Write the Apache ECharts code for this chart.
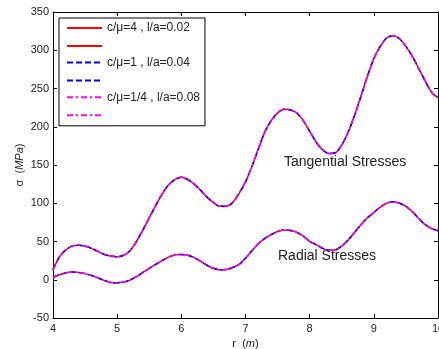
<!DOCTYPE html>
<html>
<head>
<meta charset="utf-8">
<script src="https://cdn.jsdelivr.net/npm/echarts@6/dist/echarts.min.js"></script>
<style>
  html, body { margin: 0; padding: 0; background: #fff; }
  #chart { width: 439px; height: 349px; }
</style>
</head>
<body>
<div id="chart"></div>
<script>
// r (m) sample points
const rValues = [
  4.0, 4.1, 4.2, 4.3, 4.4, 4.5, 4.6, 4.7, 4.8, 4.9,
  5.0, 5.1, 5.2, 5.3, 5.4, 5.5, 5.6, 5.7, 5.8, 5.9,
  6.0, 6.1, 6.2, 6.3, 6.4, 6.5, 6.6, 6.7, 6.8, 6.9,
  7.0, 7.1, 7.2, 7.3, 7.4, 7.5, 7.6, 7.7, 7.8, 7.9,
  8.0, 8.1, 8.2, 8.3, 8.4, 8.5, 8.6, 8.7, 8.8, 8.9,
  9.0, 9.1, 9.2, 9.3, 9.4, 9.5, 9.6, 9.7, 9.8, 9.9, 10.0
];
// sigma (MPa) -- the three parameter sets overlap
const tangential = [
  13, 30, 39, 44, 45, 44, 41, 37, 33, 31,
  30, 32, 38, 50, 65, 81, 97, 112, 124, 131,
  134, 131, 125, 117, 108, 101, 96, 96, 101, 113,
  128, 148, 171, 193, 208, 218, 223, 222, 218, 208,
  194, 180, 170, 165, 166, 176, 193, 215, 240, 266,
  289, 305, 316, 319, 315, 305, 292, 276, 260, 245, 238
];
const radial = [
  3, 6.5, 9, 10, 9.5, 8, 5.5, 2.5, -1, -3.5,
  -4, -3, -0.5, 4, 9.5, 15, 20, 25, 29.5, 32.5,
  33, 32, 29, 24, 19, 15, 13, 13.5, 16, 20,
  28, 38, 47, 54, 59, 63, 65, 64.5, 62, 57,
  50, 46, 41, 38.5, 39, 44, 52, 62, 72, 81,
  88, 95, 100, 102, 100, 96, 89, 80, 72, 67, 64
];
const cases = ['c/μ=4 , l/a=0.02', 'c/μ=1 , l/a=0.04', 'c/μ=1/4 , l/a=0.08'];
const caseColors = ['#ff0000', '#0000ff', '#ff00ff'];
const caseDash = ['solid', [6, 3], [6, 3, 2, 3]];

const font = 'Liberation Sans, Arial, sans-serif';
const toPairs = ys => rValues.map((r, i) => [r, ys[i]]);

const series = [];
const legendNames = [];
const legendText = {};
cases.forEach((c, k) => {
  [['t', tangential], ['r', radial]].forEach(([kind, ys], j) => {
    const name = c + '#' + kind;
    legendNames.push(name);
    legendText[name] = j === 0 ? c : '';
    series.push({
      name: name,
      type: 'line',
      data: toPairs(ys),
      smooth: 0.3,
      symbol: 'none',
      animation: false,
      lineStyle: { color: caseColors[k], width: 1.5, type: caseDash[k] },
      itemStyle: { color: caseColors[k] }
    });
  });
});

const chart = echarts.init(document.getElementById('chart'));
const tickText = { color: '#222', fontSize: 11, fontFamily: font };
const frameLine = { onZero: false, lineStyle: { color: '#000', width: 1 } };
const frameTick = { show: true, inside: true, length: 4, lineStyle: { color: '#000' } };
chart.setOption({
  animation: false,
  grid: { left: 53, top: 12, width: 385, height: 306, outerBoundsMode: 'none', containLabel: false },
  legend: {
    data: legendNames,
    orient: 'vertical',
    left: 59,
    top: 18,
    padding: [4, 5, 5, 7],
    itemWidth: 35,
    itemHeight: 14,
    itemGap: 5,
    borderColor: '#000',
    borderWidth: 1,
    backgroundColor: '#fff',
    selectedMode: false,
    itemStyle: { opacity: 0 },
    formatter: n => legendText[n],
    textStyle: { color: '#222', fontSize: 12, fontFamily: font }
  },
  xAxis: [{
    type: 'value', min: 4, max: 10, interval: 1,
    name: '{a|r  (}{b|m}{a|)}', nameLocation: 'middle', nameGap: 20, nameMoveOverlap: false,
    nameTextStyle: { rich: { a: tickText, b: Object.assign({}, tickText, { fontStyle: 'italic' }) } },
    axisLine: frameLine,
    axisTick: frameTick,
    axisLabel: Object.assign({ margin: 5 }, tickText),
    splitLine: { show: false }
  }, {
    type: 'value', min: 4, max: 10, interval: 1, position: 'top',
    axisLine: frameLine,
    axisTick: frameTick,
    axisLabel: { show: false }, splitLine: { show: false }
  }],
  yAxis: [{
    type: 'value', min: -50, max: 350, interval: 50,
    name: '{a|σ  (}{b|MPa}{a|)}', nameLocation: 'middle', nameGap: 28, nameMoveOverlap: false,
    nameTextStyle: { rich: { a: tickText, b: Object.assign({}, tickText, { fontStyle: 'italic' }) } },
    axisLine: Object.assign({ show: true }, frameLine),
    axisTick: frameTick,
    axisLabel: Object.assign({ margin: 4 }, tickText),
    splitLine: { show: false }
  }, {
    type: 'value', min: -50, max: 350, interval: 50, position: 'right',
    axisLine: Object.assign({ show: true }, frameLine),
    axisTick: frameTick,
    axisLabel: { show: false }, splitLine: { show: false }
  }],
  graphic: [
    { type: 'text', left: 284, top: 155, style: { text: 'Tangential Stresses', fill: '#222', fontSize: 14, fontFamily: font } },
    { type: 'text', left: 278, top: 249, style: { text: 'Radial Stresses', fill: '#222', fontSize: 14, fontFamily: font } }
  ],
  series: series
});
</script>
</body>
</html>
